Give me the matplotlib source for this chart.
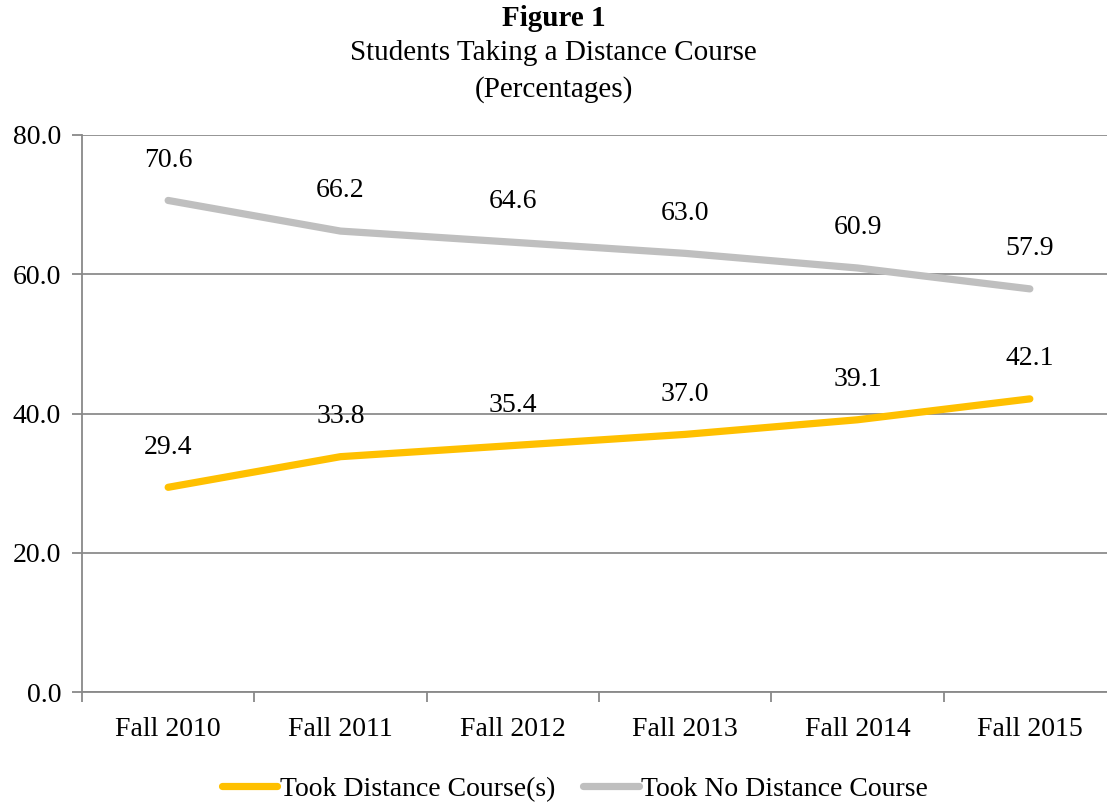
import matplotlib.pyplot as plt
import numpy as np

years = ['Fall 2010', 'Fall 2011', 'Fall 2012', 'Fall 2013', 'Fall 2014', 'Fall 2015']
took = [29.4, 33.8, 35.4, 37.0, 39.1, 42.1]
took_none = [70.6, 66.2, 64.6, 63.0, 60.9, 57.9]

plt.rcParams['font.family'] = ['Liberation Serif', 'DejaVu Serif']

fig = plt.figure(figsize=(11.07, 8.06), dpi=100)
# axes runs a bit past the right edge, as in the original picture
ax = fig.add_axes([82 / 1107, 1 - 692 / 806, (1116 - 82) / 1107, (692 - 135) / 806])

x = np.arange(len(years))
ax.plot(x, took, color='#FFC000', linewidth=5.2, solid_capstyle='round',
        label='Took Distance Course(s)', zorder=3)
ax.plot(x, took_none, color='#BFBFBF', linewidth=5.2, solid_capstyle='round',
        label='Took No Distance Course', zorder=3)

for xi, v in zip(x, took):
    ax.annotate(f'{v:.1f}', (xi, v), xytext=(0, 29), textcoords='offset points',
                ha='center', va='center', fontsize=20)
for xi, v in zip(x, took_none):
    ax.annotate(f'{v:.1f}', (xi, v), xytext=(0, 29), textcoords='offset points',
                ha='center', va='center', fontsize=20)

ax.set_xlim(-0.5, len(years) - 0.5)
ax.set_ylim(0, 80)
ax.set_yticks([0, 20, 40, 60, 80])
ax.set_yticklabels([f'{t:.1f}' for t in [0, 20, 40, 60, 80]], fontsize=20)
ax.set_xticks(x)
ax.set_xticklabels(years, fontsize=20)
ax.set_xticks(np.arange(-0.5, len(years), 1), minor=True)
ax.tick_params(axis='x', which='major', length=0, pad=18)
ax.tick_params(axis='x', which='minor', length=7, color='#898989', width=1.3)
ax.tick_params(axis='y', length=7, color='#898989', width=1.3, pad=8)

ax.grid(axis='y', color='#8C8C8C', linewidth=1.3)
ax.set_axisbelow(True)
for s in ['top', 'right']:
    ax.spines[s].set_visible(False)
for s in ['left', 'bottom']:
    ax.spines[s].set_color('#898989')
    ax.spines[s].set_linewidth(1.3)

fig.text(0.5, 1 - 18 / 806, 'Figure 1', ha='center', va='center',
         fontsize=21, fontweight='bold')
fig.text(0.5, 1 - 53 / 806, 'Students Taking a Distance Course', ha='center',
         va='center', fontsize=21)
fig.text(0.5, 1 - 90 / 806, '(Percentages)', ha='center', va='center', fontsize=21)

fig.legend(loc='center', bbox_to_anchor=(575 / 1107, 1 - 789 / 806), ncol=2,
           frameon=False, fontsize=20, handlelength=2.0, handletextpad=0.1,
           columnspacing=1.0)

fig.savefig('out.png', dpi=100)
